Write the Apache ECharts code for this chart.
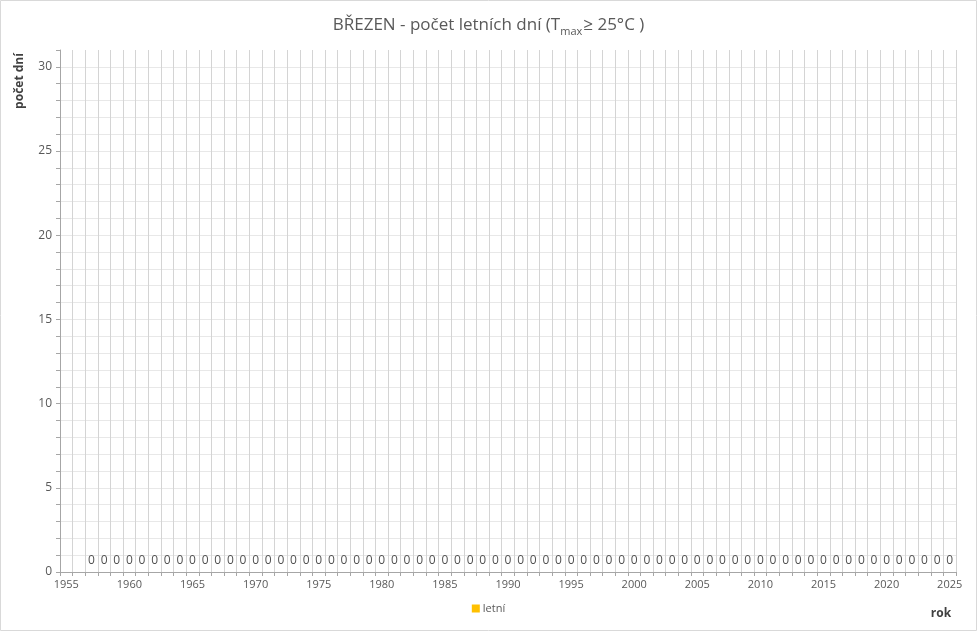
<!DOCTYPE html>
<html><head><meta charset="utf-8">
<script src="https://cdn.jsdelivr.net/npm/echarts@6/dist/echarts.min.js"></script>
<style>html,body{margin:0;padding:0;background:#fff}#c{width:977px;height:631px}</style>
</head><body><div id="c"></div>
<script>
const years = ['1955','1956','1957','1958','1959','1960','1961','1962','1963','1964','1965','1966','1967','1968','1969','1970','1971','1972','1973','1974','1975','1976','1977','1978','1979','1980','1981','1982','1983','1984','1985','1986','1987','1988','1989','1990','1991','1992','1993','1994','1995','1996','1997','1998','1999','2000','2001','2002','2003','2004','2005','2006','2007','2008','2009','2010','2011','2012','2013','2014','2015','2016','2017','2018','2019','2020','2021','2022','2023','2024','2025'];
const letni = [null,null,0,0,0,0,0,0,0,0,0,0,0,0,0,0,0,0,0,0,0,0,0,0,0,0,0,0,0,0,0,0,0,0,0,0,0,0,0,0,0,0,0,0,0,0,0,0,0,0,0,0,0,0,0,0,0,0,0,0,0,0,0,0,0,0,0,0,0,0,0];
const yLabels = [0,5,10,15,20,25,30];
const seriesName = 'letní';
const FONT = '"Open Sans", "Noto Sans", sans-serif';

const chart = echarts.init(document.getElementById('c'), null, {renderer:'canvas'});
chart.setOption({
  animation:false,
  textStyle:{fontFamily:FONT},
  title:{
    text:'BŘEZEN - počet letních dní (T{sub|max}≥ 25°C )',
    left:'center', top:9,
    textStyle:{fontFamily:FONT, fontSize:17, fontWeight:'normal', color:'#595959',
      rich:{sub:{fontFamily:FONT, fontSize:11, color:'#595959', padding:[12,1,0,0]}}}
  },
  grid:{left:60, right:21, top:50, bottom:59},
  legend:{
    data:[seriesName], bottom:12, left:'center',
    icon:'rect', itemWidth:8, itemHeight:8, itemGap:5,
    textStyle:{fontFamily:FONT, fontSize:11, color:'#595959', padding:[0,0,0,-2]}
  },
  xAxis:{
    type:'category', data:years, boundaryGap:true,
    axisLine:{lineStyle:{color:'#a6a6a6'}},
    axisTick:{show:true, interval:0, length:4, lineStyle:{color:'#a6a6a6'}},
    axisLabel:{interval:4, color:'#595959', fontSize:11, margin:7, fontFamily:FONT},
    splitLine:{show:true, interval:0, lineStyle:{color:'#d4d4d4'}}
  },
  yAxis:{
    type:'value', min:0, max:31, interval:1,
    axisLine:{show:true, lineStyle:{color:'#a6a6a6'}},
    axisTick:{show:true, length:4, lineStyle:{color:'#a6a6a6'}},
    axisLabel:{color:'#595959', fontSize:12, margin:8, fontFamily:FONT,
      formatter:v => yLabels.indexOf(v) >= 0 ? String(v) : ''},
    splitLine:{show:true, showMaxLine:false, lineStyle:{color:'#e8e8e8'}}
  },
  series:[{
    name:seriesName, type:'bar', data:letni, barWidth:'60%',
    itemStyle:{color:'#FFC000'},
    label:{show:true, position:'top', distance:5, color:'#505050', fontSize:12, fontFamily:FONT}
  }],
  graphic:[
    {type:'rect', shape:{x:0.5, y:0.5, width:976, height:630}, style:{fill:'none', stroke:'#d9d9d9', lineWidth:1}, silent:true},
    {type:'text', x:20, y:81, rotation:Math.PI/2,
      style:{text:'počet dní', font:'bold 12px ' + FONT, fill:'#404040', textAlign:'center', textVerticalAlign:'middle'}},
    {type:'text', x:941, y:614,
      style:{text:'rok', font:'bold 12px ' + FONT, fill:'#404040', textAlign:'center', textVerticalAlign:'middle'}}
  ]
});
</script></body></html>
